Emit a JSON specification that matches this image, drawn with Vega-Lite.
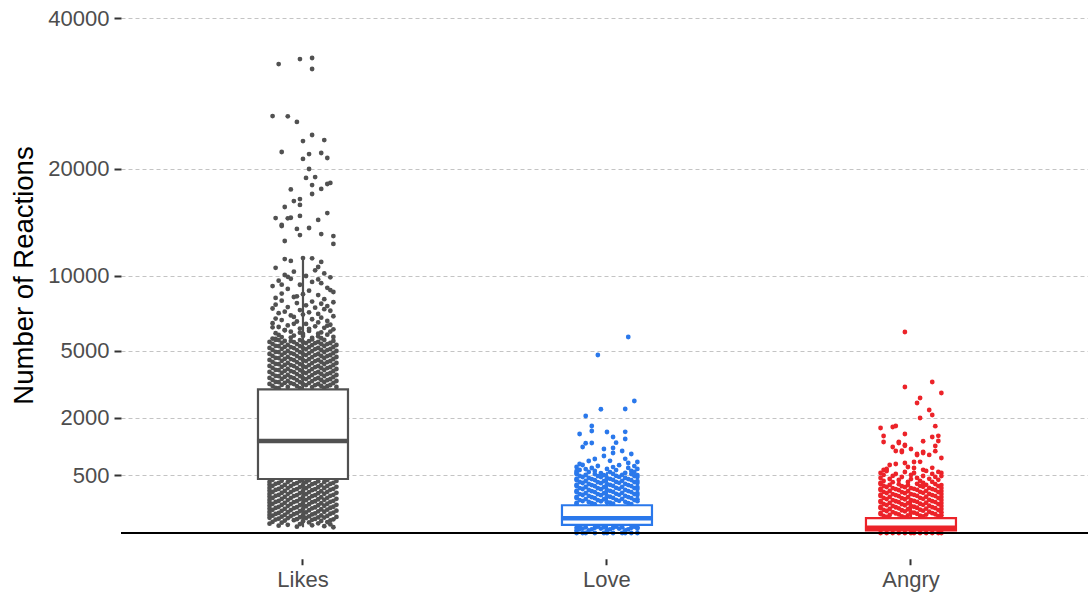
{
"$schema":"https://vega.github.io/schema/vega-lite/v6.json",
"width":967,"height":540.75,
"autosize":{"type":"none"},
"padding":{"left":121,"top":18,"right":0,"bottom":35},
"background":"white",
"config":{"view":{"stroke":null},"font":"Liberation Sans","legend":{"disable":true}},
"datasets":{
"likes":[
{"v":33170,"j":-8},{"v":33880,"j":-1},{"v":34030,"j":3},{"v":32470,"j":3},{"v":26220,"j":-10},{"v":26180,"j":-5},{"v":25480,"j":-2},{"v":23890,"j":3},{"v":23170,"j":0},{"v":23290,"j":7},{"v":21890,"j":-7},{"v":21660,"j":2},{"v":21100,"j":0},{"v":21780,"j":6},{"v":21210,"j":8},{"v":19980,"j":2},{"v":19010,"j":1},{"v":19110,"j":4},{"v":18260,"j":3},{"v":18370,"j":8},{"v":18480,"j":9},{"v":17850,"j":6},{"v":17330,"j":3},{"v":17800,"j":-4},{"v":16620,"j":-3},{"v":16820,"j":-1},{"v":16230,"j":-1},{"v":16030,"j":-6},{"v":14960,"j":-9},{"v":14930,"j":-5},{"v":14990,"j":-4},{"v":15160,"j":-1},{"v":14210,"j":-7},{"v":14310,"j":-7},{"v":15440,"j":8},{"v":14780,"j":5},{"v":13940,"j":-2},{"v":14030,"j":2},{"v":13390,"j":-1},{"v":13480,"j":6},{"v":13300,"j":10},{"v":12600,"j":10},{"v":12860,"j":-6},{"v":11320,"j":-6},{"v":11160,"j":-4},{"v":11400,"j":0},{"v":11380,"j":3},{"v":11080,"j":6},{"v":10670,"j":5},
{"v":10609,"j":-9},{"v":10404,"j":4},{"v":10302,"j":-3},{"v":10161,"j":7},{"v":10040,"j":-6},{"v":9960,"j":1},{"v":9900,"j":-5},{"v":9860,"j":9},{"v":9742,"j":-4},{"v":9700,"j":5},{"v":9604,"j":-8},{"v":9506,"j":3},{"v":9409,"j":6},{"v":9300,"j":-7},{"v":9293,"j":-1},{"v":9197,"j":-10},{"v":9063,"j":8},{"v":8987,"j":-5},{"v":8900,"j":9},{"v":8855,"j":2},{"v":8761,"j":10},{"v":8649,"j":-7},{"v":8600,"j":0},{"v":8538,"j":5},{"v":8446,"j":-2},{"v":8400,"j":-3},{"v":8336,"j":-9},{"v":8245,"j":7},
{"v":8140,"j":-7},{"v":8075,"j":3},{"v":8030,"j":10},{"v":7970,"j":-2},{"v":7925,"j":6},{"v":7860,"j":-9},{"v":7820,"j":1},{"v":7765,"j":8},{"v":7700,"j":-5},{"v":7660,"j":4},{"v":7600,"j":-10},{"v":7555,"j":7},{"v":7495,"j":-1},{"v":7450,"j":9},{"v":7390,"j":-6},{"v":7345,"j":2},{"v":7290,"j":-8},{"v":7240,"j":5},{"v":7195,"j":0},{"v":7140,"j":-4},{"v":7085,"j":10},{"v":7040,"j":-3},{"v":6990,"j":6},{"v":6935,"j":-9},{"v":6890,"j":3},{"v":6840,"j":-7},{"v":6785,"j":8},{"v":6745,"j":-2},{"v":6690,"j":5},{"v":6640,"j":-10},{"v":6595,"j":1},{"v":6540,"j":9},{"v":6500,"j":-5},{"v":6445,"j":4},{"v":6400,"j":-8},{"v":6350,"j":7},{"v":6305,"j":-1},{"v":6255,"j":10},{"v":6210,"j":-6},{"v":6160,"j":2},{"v":6115,"j":-4},{"v":6070,"j":6},{"v":6020,"j":-9},{"v":5975,"j":0},{"v":5930,"j":8},{"v":5880,"j":-3},{"v":5835,"j":5},{"v":5790,"j":-7},{"v":5745,"j":3},{"v":5700,"j":-10},
{"v":6600,"j":-3},{"v":6480,"j":8},{"v":6380,"j":-10},{"v":6290,"j":2},{"v":6200,"j":-6},{"v":6120,"j":9},{"v":6050,"j":-1},{"v":5990,"j":5},{"v":5920,"j":-8},{"v":5860,"j":0},{"v":5800,"j":10},{"v":5760,"j":-4},{"v":5720,"j":6},{"v":5680,"j":-9},{"v":5650,"j":3},
{"v":5620,"j":-9},{"v":5615,"j":-1},{"v":5618,"j":7},{"v":5560,"j":-6},{"v":5556,"j":2},{"v":5561,"j":10},{"v":5504,"j":-11},{"v":5499,"j":-3},{"v":5502,"j":5},{"v":5447,"j":-7},{"v":5442,"j":1},{"v":5445,"j":9},{"v":5389,"j":-10},{"v":5384,"j":-2},{"v":5387,"j":6},{"v":5333,"j":-5},{"v":5328,"j":3},{"v":5331,"j":11},
{"v":5276,"j":-9},{"v":5271,"j":-1},{"v":5274,"j":7},{"v":5219,"j":-6},{"v":5214,"j":2},{"v":5217,"j":10},{"v":5163,"j":-11},{"v":5158,"j":-3},{"v":5161,"j":5},{"v":5108,"j":-7},{"v":5103,"j":1},{"v":5106,"j":9},{"v":5053,"j":-10},{"v":5048,"j":-2},{"v":5051,"j":6},{"v":4998,"j":-5},{"v":4993,"j":3},{"v":4996,"j":11},
{"v":4943,"j":-9},{"v":4938,"j":-1},{"v":4941,"j":7},{"v":4888,"j":-6},{"v":4883,"j":2},{"v":4886,"j":10},{"v":4834,"j":-11},{"v":4829,"j":-3},{"v":4832,"j":5},{"v":4781,"j":-7},{"v":4776,"j":1},{"v":4779,"j":9},{"v":4727,"j":-10},{"v":4722,"j":-2},{"v":4725,"j":6},{"v":4674,"j":-5},{"v":4669,"j":3},{"v":4672,"j":11},
{"v":4621,"j":-9},{"v":4616,"j":-1},{"v":4619,"j":7},{"v":4568,"j":-6},{"v":4563,"j":2},{"v":4566,"j":10},{"v":4516,"j":-11},{"v":4511,"j":-3},{"v":4514,"j":5},{"v":4464,"j":-7},{"v":4459,"j":1},{"v":4462,"j":9},{"v":4412,"j":-10},{"v":4407,"j":-2},{"v":4410,"j":6},{"v":4361,"j":-5},{"v":4356,"j":3},{"v":4359,"j":11},
{"v":4309,"j":-9},{"v":4304,"j":-1},{"v":4307,"j":7},{"v":4259,"j":-6},{"v":4254,"j":2},{"v":4257,"j":10},{"v":4208,"j":-11},{"v":4203,"j":-3},{"v":4206,"j":5},{"v":4158,"j":-7},{"v":4153,"j":1},{"v":4156,"j":9},{"v":4108,"j":-10},{"v":4103,"j":-2},{"v":4106,"j":6},{"v":4058,"j":-5},{"v":4053,"j":3},{"v":4056,"j":11},
{"v":4009,"j":-9},{"v":4004,"j":-1},{"v":4007,"j":7},{"v":3960,"j":-6},{"v":3955,"j":2},{"v":3958,"j":10},{"v":3911,"j":-11},{"v":3906,"j":-3},{"v":3909,"j":5},{"v":3863,"j":-7},{"v":3858,"j":1},{"v":3861,"j":9},{"v":3815,"j":-10},{"v":3810,"j":-2},{"v":3813,"j":6},{"v":3767,"j":-5},{"v":3762,"j":3},{"v":3765,"j":11},
{"v":3719,"j":-9},{"v":3714,"j":-1},{"v":3717,"j":7},{"v":3672,"j":-6},{"v":3667,"j":2},{"v":3670,"j":10},{"v":3625,"j":-11},{"v":3620,"j":-3},{"v":3623,"j":5},{"v":3579,"j":-7},{"v":3574,"j":1},{"v":3577,"j":9},{"v":3532,"j":-10},{"v":3527,"j":-2},{"v":3530,"j":6},{"v":3487,"j":-5},{"v":3482,"j":3},{"v":3485,"j":11},
{"v":3441,"j":-9},{"v":3436,"j":-1},{"v":3439,"j":7},{"v":3395,"j":-6},{"v":3390,"j":2},{"v":3393,"j":10},{"v":3350,"j":-11},{"v":3345,"j":-3},{"v":3348,"j":5},{"v":3306,"j":-7},{"v":3301,"j":1},{"v":3304,"j":9},{"v":3261,"j":-10},{"v":3256,"j":-2},{"v":3259,"j":6},{"v":3217,"j":-5},{"v":3212,"j":3},{"v":3215,"j":11},{"v":3173,"j":-9},{"v":3168,"j":-1},{"v":3171,"j":7},
{"v":5612,"j":-8},{"v":5553,"j":-4},{"v":5497,"j":0},{"v":5440,"j":4},{"v":5381,"j":8},{"v":5268,"j":-8},{"v":5211,"j":-4},{"v":5155,"j":0},{"v":5100,"j":4},{"v":5045,"j":8},{"v":4936,"j":-8},{"v":4880,"j":-4},{"v":4826,"j":0},{"v":4773,"j":4},{"v":4720,"j":8},{"v":4613,"j":-8},{"v":4560,"j":-4},{"v":4508,"j":0},{"v":4456,"j":4},{"v":4404,"j":8},
{"v":4301,"j":-8},{"v":4251,"j":-4},{"v":4200,"j":0},{"v":4150,"j":4},{"v":4100,"j":8},{"v":4001,"j":-8},{"v":3952,"j":-4},{"v":3903,"j":0},{"v":3855,"j":4},{"v":3807,"j":8},{"v":3711,"j":-8},{"v":3664,"j":-4},{"v":3617,"j":0},{"v":3571,"j":4},{"v":3524,"j":8},{"v":3433,"j":-8},{"v":3387,"j":-4},{"v":3342,"j":0},{"v":3298,"j":4},{"v":3253,"j":8},{"v":3165,"j":-8},
{"v":426,"j":-10},{"v":423,"j":-4},{"v":421,"j":2},{"v":425,"j":8},{"v":410,"j":-7},{"v":407,"j":-1},{"v":405,"j":5},{"v":409,"j":11},{"v":394,"j":-11},{"v":391,"j":-5},{"v":390,"j":1},{"v":393,"j":7},{"v":378,"j":-8},{"v":376,"j":-2},{"v":375,"j":4},{"v":379,"j":10},{"v":364,"j":-9},{"v":361,"j":-3},{"v":360,"j":3},{"v":363,"j":9},{"v":349,"j":-6},{"v":347,"j":0},{"v":346,"j":6},{"v":350,"j":-11},
{"v":335,"j":-10},{"v":332,"j":-4},{"v":331,"j":2},{"v":334,"j":8},{"v":320,"j":-7},{"v":318,"j":-1},{"v":317,"j":5},{"v":321,"j":11},{"v":307,"j":-11},{"v":304,"j":-5},{"v":303,"j":1},{"v":306,"j":7},{"v":293,"j":-8},{"v":291,"j":-2},{"v":290,"j":4},{"v":294,"j":10},{"v":280,"j":-9},{"v":278,"j":-3},{"v":277,"j":3},{"v":281,"j":9},{"v":267,"j":-6},{"v":265,"j":0},{"v":264,"j":6},{"v":268,"j":-11},
{"v":255,"j":-10},{"v":253,"j":-4},{"v":252,"j":2},{"v":256,"j":8},{"v":242,"j":-7},{"v":240,"j":-1},{"v":239,"j":5},{"v":243,"j":11},{"v":230,"j":-11},{"v":228,"j":-5},{"v":227,"j":1},{"v":231,"j":7},{"v":219,"j":-8},{"v":217,"j":-2},{"v":216,"j":4},{"v":220,"j":10},{"v":208,"j":-9},{"v":206,"j":-3},{"v":205,"j":3},{"v":209,"j":9},{"v":197,"j":-6},{"v":195,"j":0},{"v":194,"j":6},{"v":198,"j":-11},
{"v":186,"j":-10},{"v":184,"j":-4},{"v":183,"j":2},{"v":187,"j":8},{"v":175,"j":-7},{"v":173,"j":-1},{"v":172,"j":5},{"v":176,"j":11},{"v":165,"j":-11},{"v":163,"j":-5},{"v":162,"j":1},{"v":166,"j":7},{"v":155,"j":-8},{"v":153,"j":-2},{"v":152,"j":4},{"v":156,"j":10},{"v":146,"j":-9},{"v":144,"j":-3},{"v":143,"j":3},{"v":147,"j":9},{"v":137,"j":-6},{"v":135,"j":0},{"v":134,"j":6},{"v":138,"j":-11},
{"v":128,"j":-10},{"v":126,"j":-4},{"v":125,"j":2},{"v":129,"j":8},{"v":119,"j":-7},{"v":117,"j":-1},{"v":116,"j":5},{"v":120,"j":11},{"v":111,"j":-11},{"v":109,"j":-5},{"v":108,"j":1},{"v":112,"j":7},{"v":103,"j":-8},{"v":101,"j":-2},{"v":100,"j":4},{"v":104,"j":10},{"v":95,"j":-9},{"v":93,"j":-3},{"v":92,"j":3},{"v":96,"j":9},{"v":88,"j":-6},{"v":86,"j":0},{"v":85,"j":6},{"v":89,"j":-11},
{"v":81,"j":-10},{"v":79,"j":-4},{"v":78,"j":2},{"v":82,"j":8},{"v":74,"j":-7},{"v":72,"j":-1},{"v":71,"j":5},{"v":75,"j":11},{"v":67,"j":-11},{"v":65,"j":-5},{"v":64,"j":1},{"v":68,"j":7},{"v":61,"j":-8},{"v":59,"j":-2},{"v":58,"j":4},{"v":62,"j":10},{"v":55,"j":-9},{"v":53,"j":-3},{"v":52,"j":3},{"v":56,"j":9},{"v":50,"j":-6},{"v":48,"j":0},{"v":47,"j":6},{"v":49,"j":-11},
{"v":45,"j":-10},{"v":43,"j":-4},{"v":42,"j":2},{"v":44,"j":8},{"v":40,"j":-7},{"v":38,"j":-1},{"v":37,"j":5},{"v":39,"j":11},{"v":35,"j":-11},{"v":33,"j":-5},{"v":34,"j":1},{"v":36,"j":7},{"v":31,"j":-8},{"v":29,"j":-2},{"v":30,"j":4},{"v":28,"j":10},{"v":27,"j":-9},{"v":25,"j":-3},{"v":26,"j":3},{"v":24,"j":9},
{"v":23,"j":-6},{"v":21,"j":0},{"v":22,"j":6},{"v":19,"j":-10},{"v":17,"j":2},{"v":18,"j":8},{"v":16,"j":-7},{"v":14,"j":5},{"v":13,"j":-11},{"v":12,"j":-1},{"v":11,"j":9},{"v":10,"j":-5},{"v":9,"j":3},{"v":8,"j":-8},{"v":7,"j":7},{"v":6,"j":-2},{"v":5,"j":10}
],
"love":[
{"v":5793,"j":7},{"v":4778,"j":-3},{"v":2628,"j":9},{"v":2319,"j":6},{"v":2310,"j":-2},{"v":2065,"j":-7},{"v":1727,"j":-5},{"v":1569,"j":-5},{"v":1478,"j":-9},{"v":1538,"j":0},{"v":1390,"j":2},{"v":1333,"j":6},{"v":1545,"j":6},{"v":1222,"j":-5},{"v":1215,"j":-7},{"v":1115,"j":-8},{"v":1230,"j":3},{"v":1064,"j":-1},{"v":1090,"j":2},{"v":1014,"j":5},{"v":941,"j":8},{"v":965,"j":2},{"v":894,"j":-1},{"v":826,"j":-4},{"v":782,"j":-6},{"v":830,"j":6},{"v":760,"j":10},{"v":739,"j":7},{"v":718,"j":-9},{"v":785,"j":1},
{"v":697,"j":-8},{"v":694,"j":4},{"v":677,"j":-3},{"v":675,"j":9},{"v":657,"j":-10},{"v":655,"j":2},{"v":637,"j":-5},{"v":639,"j":7},{"v":618,"j":0},{"v":616,"j":-7},{"v":620,"j":10},{"v":599,"j":-9},{"v":597,"j":3},{"v":580,"j":-4},{"v":582,"j":8},{"v":578,"j":-10},{"v":561,"j":-6},{"v":559,"j":1},{"v":563,"j":9},{"v":543,"j":-10},{"v":541,"j":-2},{"v":545,"j":6},
{"v":525,"j":-10},{"v":523,"j":-4},{"v":527,"j":2},{"v":524,"j":8},{"v":507,"j":-7},{"v":505,"j":-1},{"v":509,"j":5},{"v":506,"j":10},{"v":490,"j":-9},{"v":488,"j":-3},{"v":492,"j":3},{"v":489,"j":9},{"v":473,"j":-8},{"v":471,"j":-2},{"v":475,"j":4},{"v":472,"j":10},{"v":456,"j":-6},{"v":454,"j":0},{"v":458,"j":6},{"v":440,"j":-10},{"v":438,"j":-5},{"v":442,"j":1},{"v":439,"j":7},
{"v":424,"j":-10},{"v":422,"j":-4},{"v":426,"j":2},{"v":423,"j":8},{"v":408,"j":-7},{"v":406,"j":-1},{"v":410,"j":5},{"v":407,"j":10},{"v":392,"j":-9},{"v":390,"j":-3},{"v":394,"j":3},{"v":391,"j":9},{"v":377,"j":-8},{"v":375,"j":-2},{"v":379,"j":4},{"v":376,"j":10},{"v":362,"j":-6},{"v":360,"j":0},{"v":364,"j":6},{"v":348,"j":-10},{"v":346,"j":-5},{"v":350,"j":1},{"v":347,"j":7},
{"v":333,"j":-10},{"v":331,"j":-4},{"v":335,"j":2},{"v":332,"j":8},{"v":319,"j":-7},{"v":317,"j":-1},{"v":321,"j":5},{"v":318,"j":10},{"v":305,"j":-9},{"v":303,"j":-3},{"v":307,"j":3},{"v":304,"j":9},{"v":292,"j":-8},{"v":290,"j":-2},{"v":294,"j":4},{"v":291,"j":10},{"v":279,"j":-6},{"v":277,"j":0},{"v":281,"j":6},{"v":266,"j":-10},{"v":264,"j":-5},{"v":268,"j":1},{"v":265,"j":7},
{"v":254,"j":-10},{"v":252,"j":-4},{"v":256,"j":2},{"v":253,"j":8},{"v":241,"j":-7},{"v":239,"j":-1},{"v":243,"j":5},{"v":240,"j":10},{"v":229,"j":-9},{"v":227,"j":-3},{"v":231,"j":3},{"v":228,"j":9},{"v":218,"j":-8},{"v":216,"j":-2},{"v":220,"j":4},{"v":217,"j":10},{"v":207,"j":-6},{"v":205,"j":0},{"v":209,"j":6},{"v":196,"j":-10},{"v":194,"j":-5},{"v":198,"j":1},{"v":195,"j":7},
{"v":185,"j":-10},{"v":183,"j":-4},{"v":187,"j":2},{"v":184,"j":8},{"v":174,"j":-7},{"v":172,"j":-1},{"v":176,"j":5},{"v":173,"j":10},{"v":164,"j":-9},{"v":162,"j":-3},{"v":166,"j":3},{"v":163,"j":9},{"v":154,"j":-8},{"v":152,"j":-2},{"v":156,"j":4},{"v":153,"j":10},{"v":145,"j":-6},{"v":143,"j":0},{"v":147,"j":6},{"v":136,"j":-10},{"v":134,"j":-5},{"v":138,"j":1},{"v":135,"j":7},{"v":127,"j":-10},{"v":125,"j":-4},{"v":129,"j":2},{"v":126,"j":8},
{"v":6,"j":-9},{"v":6,"j":-3},{"v":6,"j":3},{"v":6,"j":9},{"v":5,"j":-7},{"v":5,"j":-1},{"v":5,"j":5},{"v":5,"j":10},{"v":4,"j":-10},{"v":4,"j":-4},{"v":4,"j":2},{"v":4,"j":8},{"v":3,"j":-8},{"v":3,"j":-2},{"v":3,"j":4},{"v":3,"j":10},{"v":2,"j":-9},{"v":2,"j":-5},{"v":2,"j":1},{"v":2,"j":7},{"v":1,"j":-6},{"v":1,"j":0},{"v":1,"j":6},{"v":1,"j":-10},
{"v":0,"j":-10},{"v":0,"j":-7},{"v":0,"j":-4},{"v":0,"j":-1},{"v":0,"j":2},{"v":0,"j":5},{"v":0,"j":8},{"v":0,"j":10},{"v":0,"j":-8},{"v":0,"j":0},{"v":0,"j":6}
],
"angry":[
{"v":6093,"j":-2},{"v":3215,"j":-2},{"v":3439,"j":7},{"v":2956,"j":10},{"v":2549,"j":2},{"v":2749,"j":3},{"v":2282,"j":6},{"v":2100,"j":7},{"v":1995,"j":3},{"v":1663,"j":-10},{"v":1695,"j":-6},{"v":1727,"j":-5},{"v":1720,"j":8},{"v":1419,"j":-9},{"v":1478,"j":-2},{"v":1390,"j":7},{"v":1425,"j":9},{"v":1249,"j":-9},{"v":1255,"j":-4},{"v":1277,"j":9},{"v":1168,"j":-2},{"v":1142,"j":8},{"v":1115,"j":-6},{"v":1014,"j":-5},{"v":1020,"j":-3},{"v":1064,"j":0},{"v":1270,"j":4},{"v":917,"j":2},{"v":965,"j":4},{"v":920,"j":6},{"v":1010,"j":8},{"v":848,"j":10},
{"v":599,"j":-9},{"v":618,"j":-8},{"v":697,"j":-7},{"v":718,"j":-5},{"v":739,"j":-2},{"v":657,"j":-1},{"v":760,"j":1},{"v":637,"j":1},{"v":765,"j":3},{"v":602,"j":4},{"v":640,"j":7},{"v":543,"j":10},{"v":1222,"j":-4},{"v":1145,"j":-2},{"v":990,"j":-3},{"v":941,"j":2},{"v":995,"j":4},
{"v":580,"j":-8},{"v":582,"j":5},{"v":561,"j":-2},{"v":563,"j":9},{"v":543,"j":-10},{"v":545,"j":1},{"v":525,"j":-5},{"v":527,"j":7},{"v":507,"j":0},{"v":509,"j":-9},{"v":490,"j":4},{"v":488,"j":10},{"v":492,"j":-6},{"v":473,"j":-3},{"v":475,"j":8},{"v":456,"j":-10},{"v":458,"j":2},{"v":440,"j":-7},{"v":442,"j":6},{"v":438,"j":0},{"v":424,"j":-4},{"v":426,"j":9},{"v":408,"j":-9},{"v":410,"j":3},{"v":392,"j":-1},{"v":394,"j":7},{"v":390,"j":-6},{"v":377,"j":-10},{"v":379,"j":4},
{"v":362,"j":-10},{"v":360,"j":-4},{"v":364,"j":2},{"v":361,"j":8},{"v":348,"j":-7},{"v":346,"j":-1},{"v":350,"j":5},{"v":347,"j":10},{"v":333,"j":-9},{"v":331,"j":-3},{"v":335,"j":3},{"v":332,"j":9},{"v":319,"j":-8},{"v":317,"j":-2},{"v":321,"j":4},{"v":305,"j":-6},{"v":303,"j":0},{"v":307,"j":6},{"v":304,"j":10},{"v":292,"j":-10},{"v":290,"j":-5},{"v":294,"j":1},{"v":291,"j":7},
{"v":279,"j":-10},{"v":277,"j":-4},{"v":281,"j":2},{"v":278,"j":8},{"v":266,"j":-7},{"v":264,"j":-1},{"v":268,"j":5},{"v":265,"j":10},{"v":254,"j":-9},{"v":252,"j":-3},{"v":256,"j":3},{"v":253,"j":9},{"v":241,"j":-8},{"v":239,"j":-2},{"v":243,"j":4},{"v":229,"j":-6},{"v":227,"j":0},{"v":231,"j":6},{"v":228,"j":10},{"v":218,"j":-10},{"v":216,"j":-5},{"v":220,"j":1},{"v":217,"j":7},
{"v":207,"j":-10},{"v":205,"j":-4},{"v":209,"j":2},{"v":206,"j":8},{"v":196,"j":-7},{"v":194,"j":-1},{"v":198,"j":5},{"v":195,"j":10},{"v":185,"j":-9},{"v":183,"j":-3},{"v":187,"j":3},{"v":184,"j":9},{"v":174,"j":-8},{"v":172,"j":-2},{"v":176,"j":4},{"v":164,"j":-6},{"v":162,"j":0},{"v":166,"j":6},{"v":163,"j":10},{"v":154,"j":-10},{"v":152,"j":-5},{"v":156,"j":1},{"v":153,"j":7},
{"v":145,"j":-10},{"v":143,"j":-4},{"v":147,"j":2},{"v":144,"j":8},{"v":136,"j":-7},{"v":134,"j":-1},{"v":138,"j":5},{"v":135,"j":10},{"v":127,"j":-9},{"v":125,"j":-3},{"v":129,"j":3},{"v":126,"j":9},{"v":118,"j":-8},{"v":116,"j":-2},{"v":120,"j":4},{"v":110,"j":-6},{"v":108,"j":0},{"v":112,"j":6},{"v":109,"j":10},{"v":102,"j":-10},{"v":100,"j":-5},{"v":104,"j":1},{"v":101,"j":7},
{"v":94,"j":-10},{"v":92,"j":-4},{"v":96,"j":2},{"v":93,"j":8},{"v":87,"j":-7},{"v":85,"j":-1},{"v":89,"j":5},{"v":86,"j":10},{"v":80,"j":-9},{"v":78,"j":-3},{"v":82,"j":3},{"v":79,"j":9},{"v":73,"j":-8},{"v":71,"j":-2},{"v":75,"j":4},{"v":66,"j":-6},{"v":64,"j":0},{"v":68,"j":6},{"v":65,"j":10},{"v":60,"j":-10},{"v":58,"j":-5},{"v":62,"j":1},{"v":59,"j":7},
{"v":54,"j":-10},{"v":52,"j":-4},{"v":56,"j":2},{"v":53,"j":8},{"v":49,"j":-7},{"v":47,"j":-1},{"v":51,"j":5},{"v":48,"j":10},{"v":44,"j":-9},{"v":42,"j":-3},{"v":46,"j":3},{"v":43,"j":9},{"v":39,"j":-8},{"v":37,"j":-2},{"v":41,"j":4},
{"v":0,"j":-10},{"v":0,"j":-8},{"v":0,"j":-6},{"v":0,"j":-4},{"v":0,"j":-2},{"v":0,"j":0},{"v":0,"j":1},{"v":0,"j":3},{"v":0,"j":5},{"v":0,"j":7},{"v":0,"j":9},{"v":0,"j":10}
],
"box":[
{"c":"Likes","lo":5,"q1":440,"med":1276,"q3":3114,"hi":11430},
{"c":"Love","lo":0,"q1":10,"med":33,"q3":116,"hi":560},
{"c":"Angry","lo":0,"q1":1,"med":4,"q3":33,"hi":165}
]
},
"layer":[
{"data":{"name":"likes"},"mark":{"type":"circle","size":23,"opacity":1},
 "encoding":{
  "x":{"datum":"Likes","type":"nominal","title":null,
   "scale":{"type":"band","domain":["Likes","Love","Angry"],"paddingInner":0,"paddingOuter":0.0905,"align":0.545},
   "axis":{"title":null,"domain":false,"ticks":true,"tickSize":6,"tickWidth":2,"tickColor":"#333333","labelFontSize":22,"labelColor":"#4d4d4d","labelPadding":5,"labelAngle":0,"grid":false,"labelFont":"Liberation Sans"}},
  "xOffset":{"field":"j","type":"quantitative","scale":{"domain":[-50,50]}},
  "y":{"field":"v","type":"quantitative","title":"Number of Reactions",
   "scale":{"type":"sqrt","domain":[-100,40000],"nice":false,"zero":false},
   "axis":{"values":[500,2000,5000,10000,20000,40000],"format":"d","domain":false,"ticks":true,"tickSize":7,"tickWidth":2,"tickColor":"#333333","labelFontSize":22,"labelColor":"#4d4d4d","labelPadding":5,"labelFont":"Liberation Sans","labelOverlap":false,"grid":true,"gridColor":"#c4c4c4","gridDash":[4,3],"gridWidth":1,"title":"Number of Reactions","titleFontSize":27.5,"titleFontWeight":"normal","titleColor":"#000000","titleFont":"Liberation Sans","titleX":-97,"titleY":257,"titleAngle":-90,"titleAlign":"center","titleBaseline":"middle"}},
  "color":{"datum":"Likes","type":"nominal","scale":{"domain":["Likes","Love","Angry"],"range":["#515151","#2A78EB","#EC2329"]},"legend":null}
 }},
{"data":{"name":"love"},"mark":{"type":"circle","size":23,"opacity":1},
 "encoding":{
  "x":{"datum":"Love","type":"nominal","title":null},
  "xOffset":{"field":"j","type":"quantitative"},
  "y":{"field":"v","type":"quantitative","title":"Number of Reactions"},
  "color":{"datum":"Love","type":"nominal","legend":null}
 }},
{"data":{"name":"angry"},"mark":{"type":"circle","size":23,"opacity":1},
 "encoding":{
  "x":{"datum":"Angry","type":"nominal","title":null},
  "xOffset":{"field":"j","type":"quantitative"},
  "y":{"field":"v","type":"quantitative","title":"Number of Reactions"},
  "color":{"datum":"Angry","type":"nominal","legend":null}
 }},
{"data":{"name":"box"},"mark":{"type":"rule","strokeWidth":2.2},
 "encoding":{
  "x":{"field":"c","type":"nominal","title":null},
  "y":{"field":"q3","type":"quantitative","title":"Number of Reactions"},
  "y2":{"field":"hi"},
  "color":{"field":"c","type":"nominal","legend":null}
 }},
{"data":{"name":"box"},"mark":{"type":"rule","strokeWidth":2.2},
 "encoding":{
  "x":{"field":"c","type":"nominal","title":null},
  "y":{"field":"lo","type":"quantitative","title":"Number of Reactions"},
  "y2":{"field":"q1"},
  "color":{"field":"c","type":"nominal","legend":null}
 }},
{"data":{"values":[{}]},"mark":{"type":"rule","color":"#000000","strokeWidth":2},
 "encoding":{"y":{"datum":0,"type":"quantitative","title":"Number of Reactions"}}},
{"data":{"name":"box"},"mark":{"type":"bar","fill":"#ffffff","strokeWidth":2.2,"width":90,"opacity":1},
 "encoding":{
  "x":{"field":"c","type":"nominal","title":null},
  "y":{"field":"q1","type":"quantitative","title":"Number of Reactions"},
  "y2":{"field":"q3"},
  "stroke":{"field":"c","type":"nominal","scale":{"domain":["Likes","Love","Angry"],"range":["#515151","#2A78EB","#EC2329"]},"legend":null}
 }},
{"data":{"name":"box"},"mark":{"type":"tick","thickness":4.5,"opacity":1},
 "encoding":{
  "x":{"field":"c","type":"nominal","title":null},
  "y":{"field":"med","type":"quantitative","title":"Number of Reactions"},
  "size":{"value":92},
  "color":{"field":"c","type":"nominal","legend":null}
 }}
]
}
